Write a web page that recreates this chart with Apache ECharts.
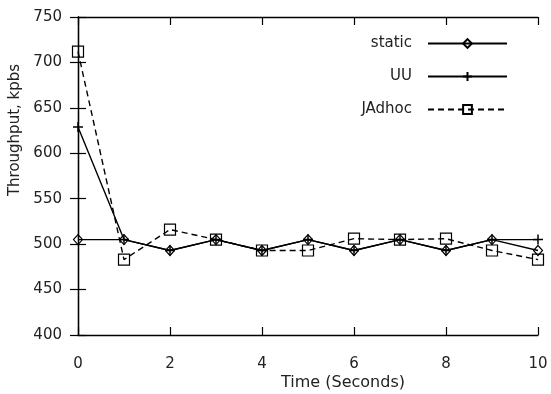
<!DOCTYPE html>
<html>
<head>
<meta charset="utf-8">
<script src="https://cdn.jsdelivr.net/npm/echarts@6/dist/echarts.min.js"></script>
<style>
html,body{margin:0;padding:0;background:#fff;}
#chart{width:551px;height:394px;}
</style>
</head>
<body>
<div id="chart"></div>
<script>
var times = [0, 1, 2, 3, 4, 5, 6, 7, 8, 9, 10];
var staticVals = [505, 505, 493, 505, 493, 505, 493, 505, 493, 505, 493];
var uuVals = [629, 505, 493, 505, 493, 505, 493, 505, 493, 505, 505];
var jadhocVals = [712, 483, 516, 505, 493, 493, 506, 505, 506, 493, 483];
var seriesNames = ['static', 'UU', 'JAdhoc'];
var xTitle = 'Time (Seconds)';
var yTitle = 'Throughput, kpbs';

function pairs(vals) { return times.map(function (t, i) { return [t, vals[i]]; }); }

var FONT = 'DejaVu Sans';
var TXT = '#222';
var chart = echarts.init(document.getElementById('chart'), null, { renderer: 'canvas' });

var tickStyle = { show: true, inside: true, length: 8, lineStyle: { color: '#000', width: 1.2 } };
var axLine = { show: true, lineStyle: { color: '#000', width: 1.3 } };

var symStyle = { color: 'rgba(0,0,0,0)', borderColor: '#000', borderWidth: 1.2 };

chart.setOption({
  animation: false,
  backgroundColor: '#fff',
  grid: { left: 78, right: 13, top: 17, bottom: 59, containLabel: false },
  legend: {
    orient: 'vertical',
    align: 'right',
    right: 38,
    top: 31,
    itemWidth: 79,
    itemHeight: 11,
    itemGap: 18,
    textStyle: { fontFamily: FONT, fontSize: 15, color: TXT, padding: [0, 11, 0, 0] },
    data: seriesNames
  },
  xAxis: [{
    type: 'value', min: 0, max: 10, interval: 2,
    axisLine: axLine, axisTick: tickStyle, splitLine: { show: false },
    axisLabel: { margin: 22, fontFamily: FONT, fontSize: 15, color: TXT }
  }, {
    type: 'value', position: 'top', min: 0, max: 10, interval: 2,
    axisLine: axLine, axisTick: tickStyle, splitLine: { show: false },
    axisLabel: { show: false }
  }],
  yAxis: [{
    type: 'value', min: 400, max: 750, interval: 50,
    axisLine: axLine, axisTick: tickStyle, splitLine: { show: false },
    axisLabel: { margin: 16, fontFamily: FONT, fontSize: 15, color: TXT }
  }, {
    type: 'value', position: 'right', min: 400, max: 750, interval: 50,
    axisLine: axLine, axisTick: tickStyle, splitLine: { show: false },
    axisLabel: { show: false }
  }],
  graphic: [{
    type: 'text', x: 343, y: 383,
    style: { text: xTitle, fontFamily: FONT, fontSize: 16, fill: TXT, textAlign: 'center', textVerticalAlign: 'middle' }
  }, {
    type: 'text', x: 15, y: 130, rotation: Math.PI / 2,
    style: { text: yTitle, fontFamily: FONT, fontSize: 15, fill: TXT, textAlign: 'center', textVerticalAlign: 'middle' }
  }],
  series: [{
    name: seriesNames[0], type: 'line', data: pairs(staticVals),
    symbol: 'diamond', symbolSize: [9, 10], showAllSymbol: true,
    lineStyle: { color: '#000', width: 1.4, type: 'solid' },
    itemStyle: symStyle
  }, {
    name: seriesNames[1], type: 'line', data: pairs(uuVals),
    symbol: 'path://M5,0V10M0,5H10', symbolSize: 10, showAllSymbol: true,
    lineStyle: { color: '#000', width: 1.4, type: 'solid' },
    itemStyle: { color: 'rgba(0,0,0,0)', borderColor: '#000', borderWidth: 1.5 }
  }, {
    name: seriesNames[2], type: 'line', data: pairs(jadhocVals),
    symbol: 'rect', symbolSize: 11, showAllSymbol: true,
    lineStyle: { color: '#000', width: 1.4, type: [6, 4] },
    itemStyle: symStyle
  }]
});
</script>
</body>
</html>
